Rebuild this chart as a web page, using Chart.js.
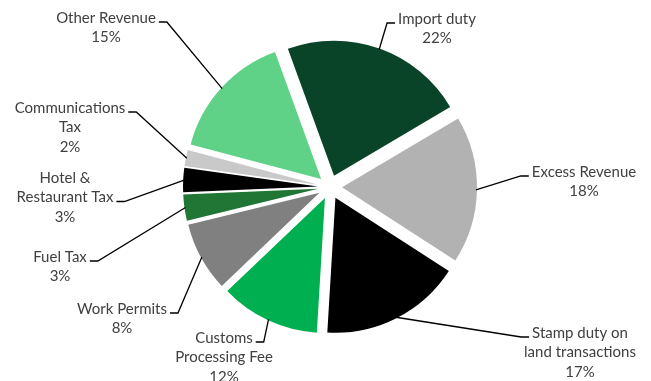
<!DOCTYPE html>
<html>
<head>
<meta charset="utf-8">
<script src="https://cdn.jsdelivr.net/npm/chart.js@4"></script>
<style>
    html, body { margin: 0; padding: 0; background: #fff; }
    #wrap { width: 651px; height: 381px; position: relative; }
</style>
</head>
<body>
<div id="wrap"><canvas id="pie"></canvas></div>
<script>
// Revenue shares, clockwise from the top
const categories = [
    'Import duty',
    'Excess Revenue',
    'Stamp duty on\nland transactions',
    'Customs\nProcessing Fee',
    'Work Permits',
    'Fuel Tax',
    'Hotel &\nRestaurant Tax',
    'Communications\nTax',
    'Other Revenue'
];
const shares = [22.0, 17.6, 16.8, 11.9, 8.3, 3.1, 2.9, 1.9, 15.3];
const sliceColors = ['#0a4428', '#b2b2b2', '#000000', '#00b050', '#808080', '#217535', '#000000', '#c9c9c9', '#5fd287'];

// label placement: [centre x, first line y, line the leader hooks onto, side of the text]
const labelSpots = [
    [437, 19, 0, 'left'],
    [584, 172, 0, 'left'],
    [580, 333, 0, 'left'],
    [224, 338, 0, 'right'],
    [122, 309, 0, 'right'],
    [60, 257, 0, 'right'],
    [65, 178, 1, 'right'],
    [70, 108, 0, 'right'],
    [106, 18, 0, 'right']
];

const EXPLODE = 12;
const LINE_H = 19.5;
const FONT = '15px Lato, "Open Sans", sans-serif';

// pull every slice out from the centre by a fixed distance
const explodePlugin = {
    id: 'explode',
    beforeDatasetsDraw(chart) {
        chart.getDatasetMeta(0).data.forEach(arc => {
            if (arc._exploded) return;
            const base = arc.draw;
            arc.draw = function (ctx, area) {
                const mid = (this.startAngle + this.endAngle) / 2;
                ctx.save();
                ctx.translate(Math.cos(mid) * EXPLODE, Math.sin(mid) * EXPLODE);
                base.call(this, ctx, area);
                ctx.restore();
            };
            arc._exploded = true;
        });
    }
};

// outside labels with leader lines
const labelPlugin = {
    id: 'outLabels',
    afterDatasetsDraw(chart) {
        const ctx = chart.ctx;
        const data = chart.data.datasets[0].data;
        const total = data.reduce((a, b) => a + b, 0);
        ctx.save();
        ctx.font = FONT;
        ctx.textAlign = 'center';
        ctx.textBaseline = 'middle';
        chart.getDatasetMeta(0).data.forEach((arc, i) => {
            const [cx, y0, hook, side] = labelSpots[i];
            const lines = categories[i].split('\n');
            lines.push(Math.round(data[i] / total * 100) + '%');

            ctx.fillStyle = '#404040';
            lines.forEach((t, k) => ctx.fillText(t, cx, y0 + k * LINE_H));

            const w = ctx.measureText(lines[hook]).width;
            const ay = y0 + hook * LINE_H + 4;
            const ax = side === 'left' ? cx - w / 2 - 3 : cx + w / 2 + 3;
            const ex = side === 'left' ? ax - 8 : ax + 8;

            const p = arc.getProps(['x', 'y', 'startAngle', 'endAngle', 'outerRadius'], true);
            const mid = (p.startAngle + p.endAngle) / 2;
            const rr = p.outerRadius + EXPLODE - 1;
            const px = p.x + Math.cos(mid) * rr;
            const py = p.y + Math.sin(mid) * rr;

            ctx.strokeStyle = '#000';
            ctx.lineWidth = 1.3;
            ctx.beginPath();
            ctx.moveTo(ax, ay);
            ctx.lineTo(ex, ay);
            ctx.lineTo(px, py);
            ctx.stroke();
        });
        ctx.restore();
    }
};

new Chart(document.getElementById('pie'), {
    type: 'pie',
    data: {
        labels: categories,
        datasets: [{
            data: shares,
            backgroundColor: sliceColors,
            borderWidth: 0,
            radius: 135
        }]
    },
    options: {
        responsive: true,
        maintainAspectRatio: false,
        animation: false,
        rotation: -20,
        layout: { padding: { left: 9, right: 0, top: 0, bottom: 7 } },
        plugins: {
            legend: { display: false },
            tooltip: { enabled: false }
        }
    },
    plugins: [explodePlugin, labelPlugin]
});
</script>
</body>
</html>
